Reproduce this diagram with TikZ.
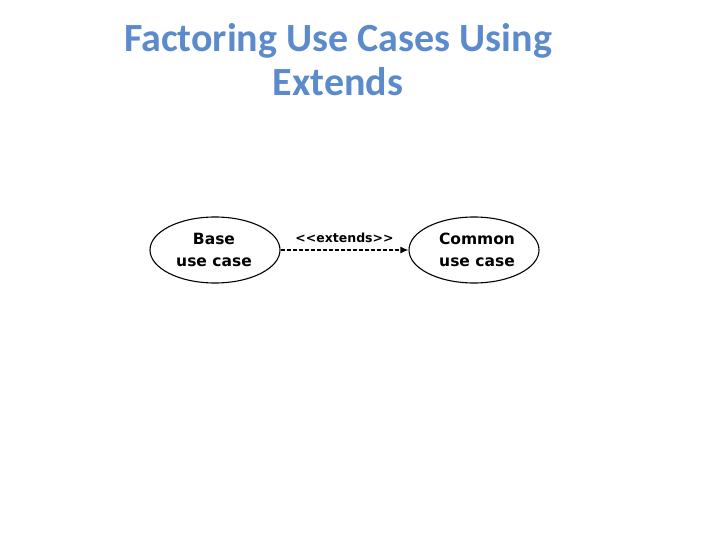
\documentclass[tikz,border=0pt]{standalone}
\usepackage{fontspec}
\setmainfont{Carlito}
\newfontfamily\uml{DejaVu Sans}
\usetikzlibrary{arrows.meta,shapes.geometric}
\definecolor{titleblue}{HTML}{5B8BCB}
\begin{document}
\begin{tikzpicture}[x=1pt,y=-1pt,
  usecase/.style={draw, line width=1.1pt, ellipse, minimum width=130pt, minimum height=66pt, inner sep=0pt},
  uctext/.style={font=\uml\bfseries\fontsize{15.5}{21.5}\selectfont, align=center},
  extline/.style={dashed, dash pattern=on 4pt off 2pt, line width=1.4pt, -{Latex[length=8pt,width=7pt]}}]
\useasboundingbox (0,0) rectangle (720,540);
\node[text=titleblue, font=\bfseries\fontsize{40}{44}\selectfont, align=center] (title) at (338,60) {Factoring Use Cases Using\\Extends};
\node[usecase] (base) at (215,250) {};
\node[uctext] (basetxt) at (214,250) {Base\\use case};
\node[usecase] (common) at (474,250) {};
\node[uctext] (commontxt) at (477,250) {Common\\use case};
\draw[extline] (base.east) -- (common.west) node[midway, above=3pt, font=\uml\bfseries\fontsize{12.5}{14}\selectfont] (lbl) {<<extends>>};
\end{tikzpicture}
\end{document}
